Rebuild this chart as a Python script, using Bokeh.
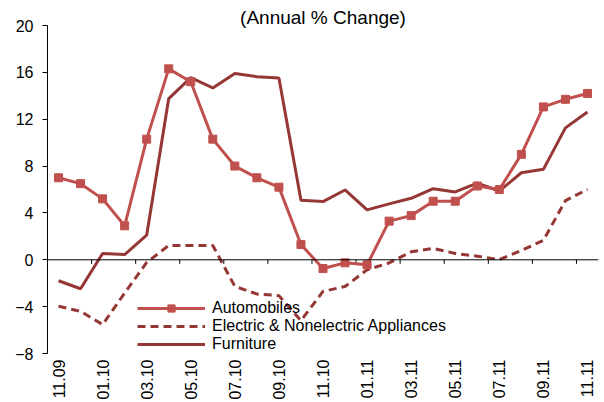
import numpy as np
from bokeh.plotting import figure
from bokeh.models import FixedTicker, Span, Legend, LegendItem, ColumnDataSource
from bokeh.embed import file_html
from bokeh.resources import INLINE

months = ["11.09", "12.09", "01.10", "02.10", "03.10", "04.10", "05.10", "06.10", "07.10",
          "08.10", "09.10", "10.10", "11.10", "12.10", "01.11", "02.11", "03.11", "04.11",
          "05.11", "06.11", "07.11", "08.11", "09.11", "10.11", "11.11"]
automobiles = [7.0, 6.5, 5.2, 2.9, 10.3, 16.3, 15.2, 10.3, 8.0, 7.0, 6.2, 1.3, -0.75,
               -0.26, -0.43, 3.3, 3.77, 5.0, 5.0, 6.3, 6.0, 9.0, 13.05, 13.7, 14.2]
appliances = [-3.97, -4.4, -5.53, -2.84, -0.23, 1.22, 1.22, 1.22, -2.27, -2.92, -3.06,
              -5.19, -2.7, -2.28, -0.85, -0.27, 0.68, 0.97, 0.54, 0.31, 0.02, 0.79, 1.66,
              5.05, 6.01]
furniture = [-1.79, -2.47, 0.54, 0.45, 2.1, 13.76, 15.55, 14.67, 15.9, 15.63, 15.52, 5.08,
             4.97, 5.96, 4.26, 4.77, 5.25, 6.07, 5.79, 6.55, 5.87, 7.43, 7.72, 11.26, 12.62]
y_ticks = [-8, -4, 0, 4, 8, 12, 16, 20]
title_text = "(Annual % Change)"

FONT = "Liberation Sans"
AUTO_C = "#C0504D"
DARK_C = "#953735"

x = list(range(len(months)))
src = ColumnDataSource(dict(x=x, auto=automobiles, appl=appliances, furn=furniture))

p = figure(width=604, height=402, output_backend="svg", toolbar_location=None,
           x_range=(-0.5, len(months) - 0.5), y_range=(y_ticks[0], y_ticks[-1]),
           min_border_left=47, min_border_right=6, min_border_top=25, min_border_bottom=48)

p.title.text = title_text
p.title.align = "center"
p.title.text_font = FONT
p.title.text_font_size = "19px"
p.title.text_font_style = "normal"
p.title.text_color = "black"
p.title.offset = 9
try:
    p.title.standoff = -4
except Exception:
    p.title.standoff = 0

p.grid.visible = False
p.outline_line_color = None

# y axis
p.yaxis.ticker = FixedTicker(ticks=y_ticks)
p.yaxis.minor_tick_line_color = None
p.yaxis.major_tick_out = 5
p.yaxis.major_tick_in = 0
p.yaxis.major_label_standoff = 9
p.yaxis.major_label_text_font = FONT
p.yaxis.major_label_text_font_size = "16px"
p.yaxis.major_label_text_color = "black"
p.yaxis.axis_line_color = "black"
p.yaxis.major_tick_line_color = "black"

# x axis (labels only at bottom)
p.xaxis.ticker = FixedTicker(ticks=x[::2])
p.xaxis.major_label_overrides = {i: months[i] for i in x[::2]}
p.xaxis.major_label_orientation = np.pi / 2
p.xaxis.axis_line_color = None
p.xaxis.major_tick_line_color = None
p.xaxis.minor_tick_line_color = None
p.xaxis.major_tick_out = 0
p.xaxis.major_tick_in = 0
p.xaxis.major_label_standoff = 6
p.xaxis.major_label_text_font = FONT
p.xaxis.major_label_text_font_size = "16px"
p.xaxis.major_label_text_color = "black"

# zero line acting as category axis
p.add_layout(Span(location=0, dimension="width", line_color="black", line_width=1))
tick_x = [i + 0.5 for i in x[1:-1:2]]
p.segment(x0=tick_x, x1=tick_x, y0=[0] * len(tick_x), y1=[-0.35] * len(tick_x),
          line_color="black", line_width=1)

r_furn = p.line("x", "furn", source=src, line_color=DARK_C, line_width=3)
r_appl = p.line("x", "appl", source=src, line_color=DARK_C, line_width=3, line_dash="8 5")
r_auto = p.line("x", "auto", source=src, line_color=AUTO_C, line_width=3)
r_auto_m = p.scatter("x", "auto", source=src, marker="square", size=8,
                     fill_color=AUTO_C, line_color=AUTO_C)

legend = Legend(items=[
    LegendItem(label="Automobiles", renderers=[r_auto, r_auto_m]),
    LegendItem(label="Electric & Nonelectric Appliances", renderers=[r_appl]),
    LegendItem(label="Furniture", renderers=[r_furn]),
], location=(90, 0))
legend.background_fill_alpha = 0
legend.border_line_color = None
legend.padding = 0
legend.margin = 0
legend.spacing = 0
legend.glyph_width = 68
legend.glyph_height = 18
legend.label_height = 18
legend.label_standoff = 7
legend.label_text_font = FONT
legend.label_text_font_size = "16px"
legend.label_text_color = "black"
p.add_layout(legend, "center")

open("out.html", "w").write(file_html(p, INLINE))
